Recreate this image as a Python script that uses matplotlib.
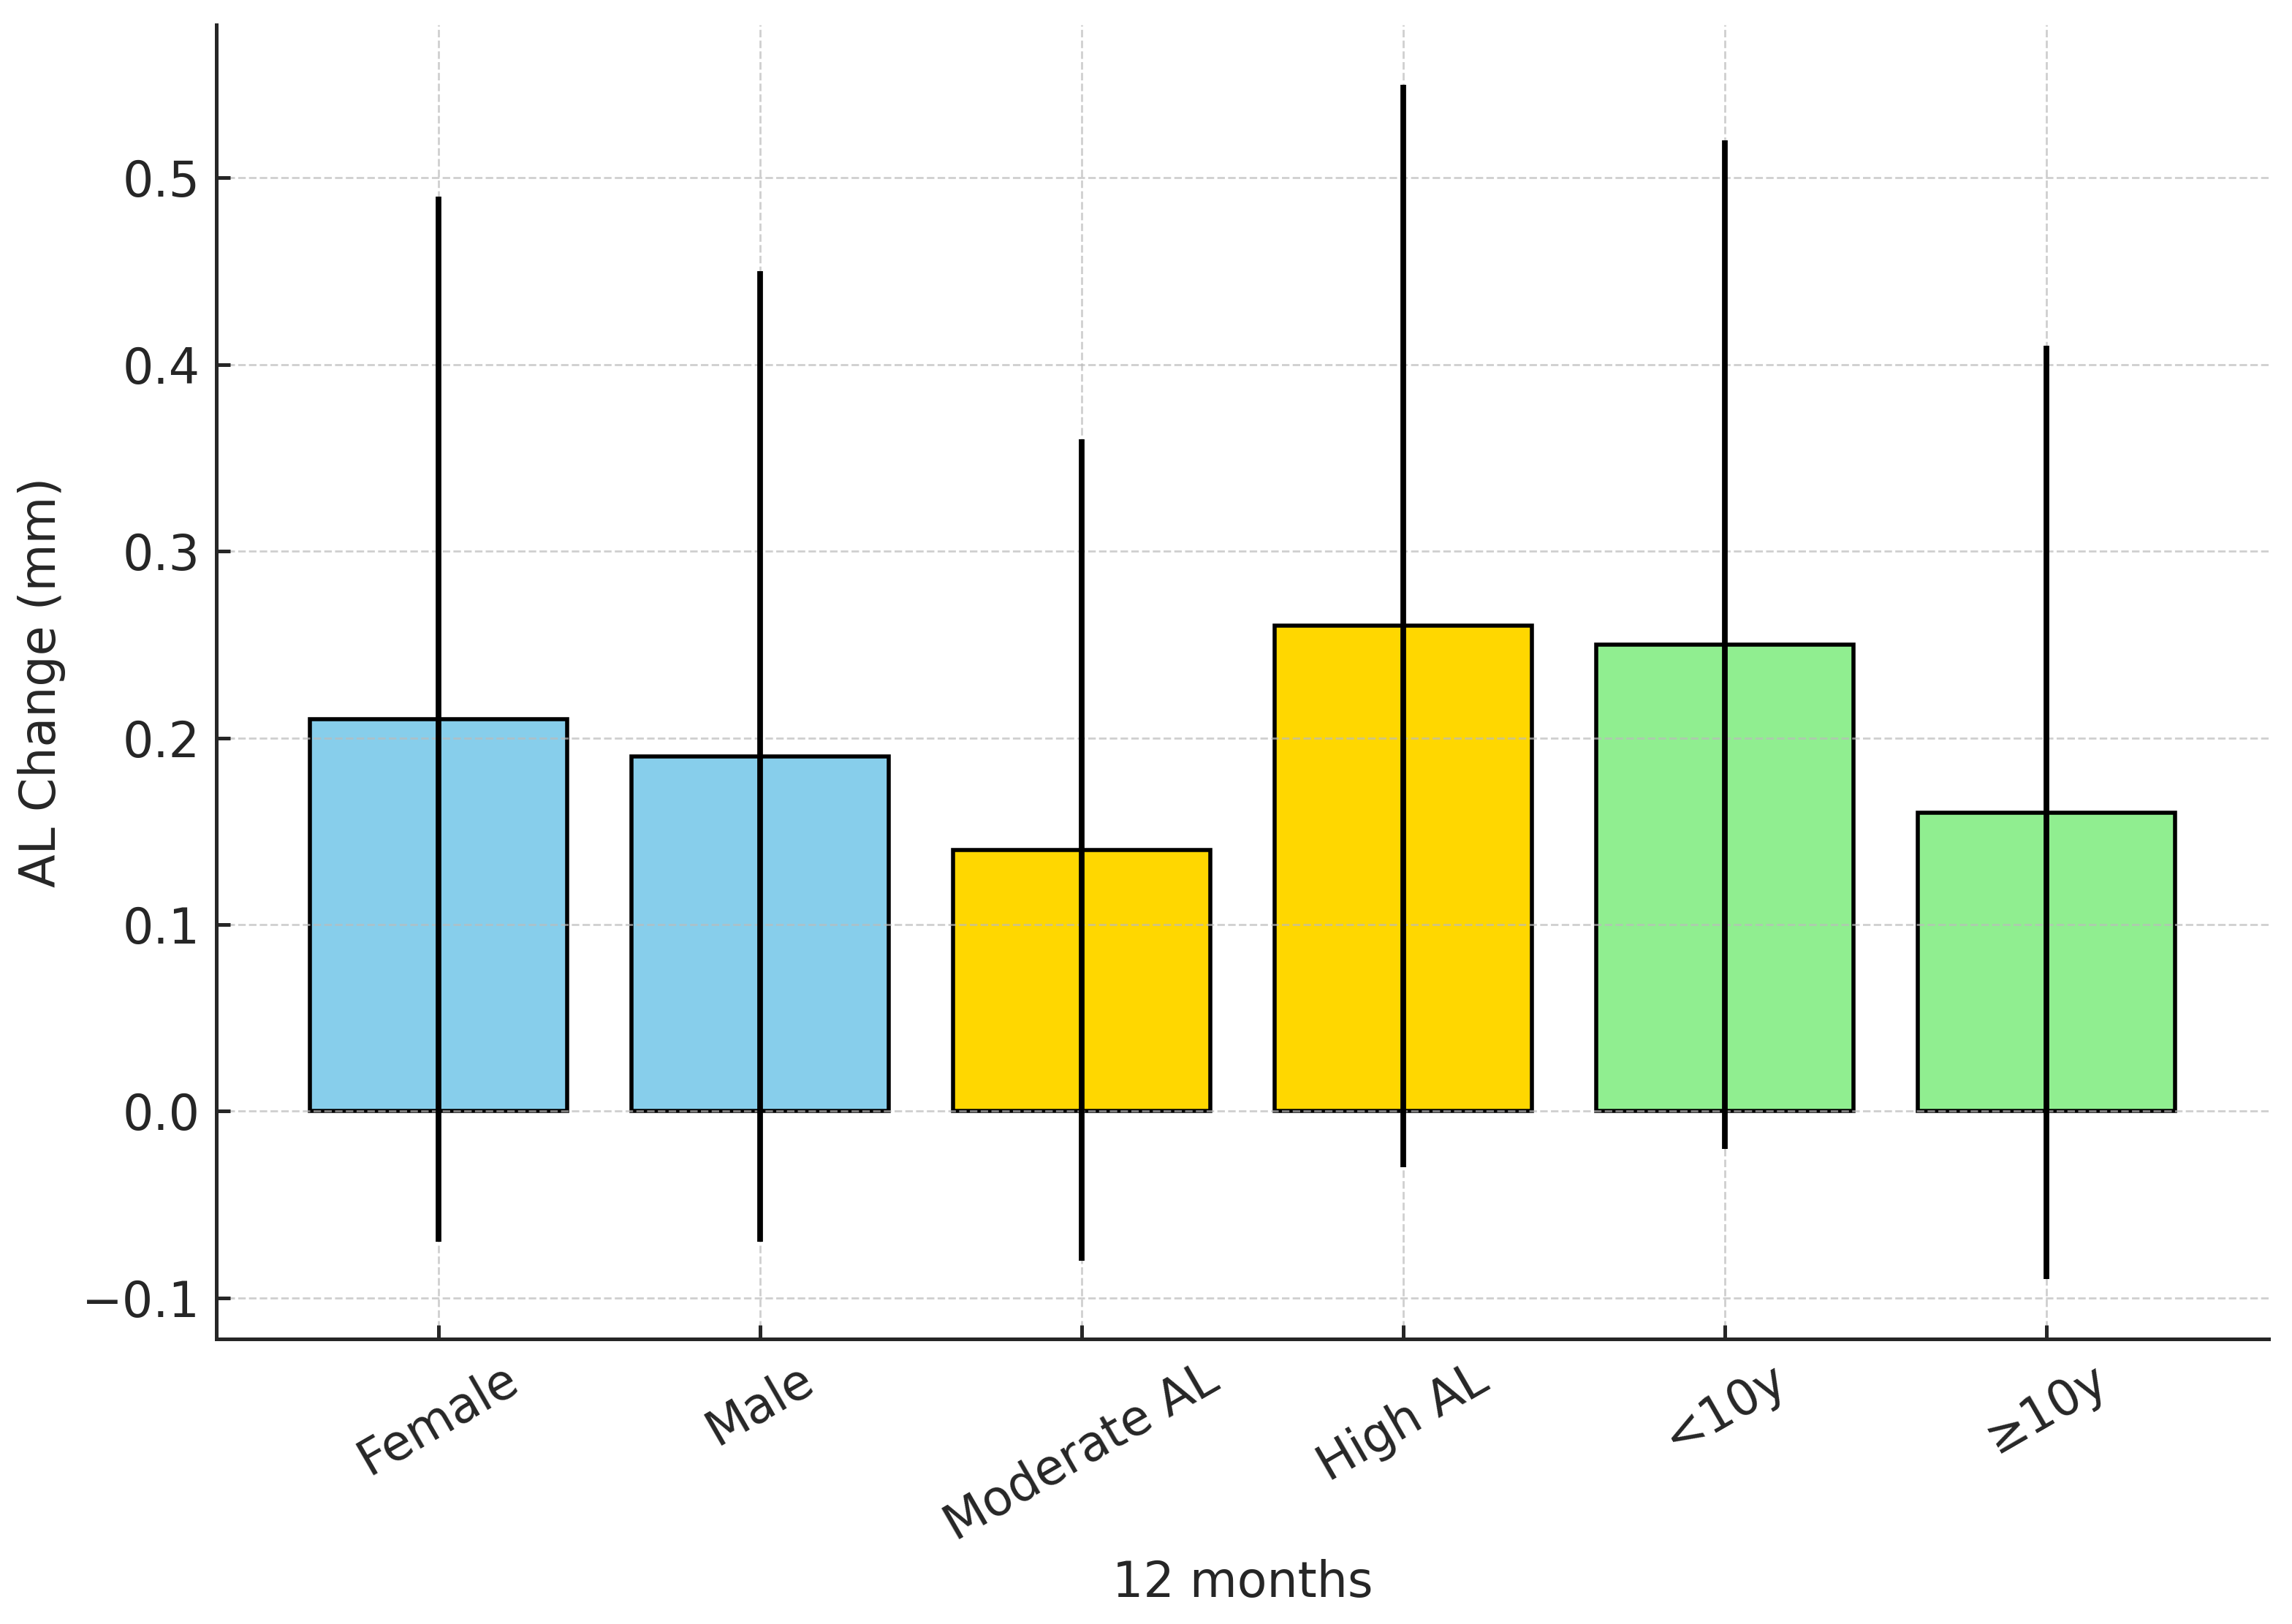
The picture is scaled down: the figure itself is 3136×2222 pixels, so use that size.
import numpy as np
import matplotlib
matplotlib.use("Agg")
from matplotlib import pyplot as plt

# data
groups = ["Female", "Male", "Moderate AL", "High AL", "<10y", "≥10y"]
al_change = [0.21, 0.19, 0.14, 0.26, 0.25, 0.16]
al_sd = [0.28, 0.26, 0.22, 0.29, 0.27, 0.25]
colors = ["skyblue", "skyblue", "gold", "gold", "lightgreen", "lightgreen"]

plt.rcParams['font.family'] = ['DejaVu Sans']
plt.rcParams['font.size'] = 24

fig = plt.figure(figsize=(15.68, 11.11), dpi=200)
ax = fig.add_axes([0.0944, 0.1755, 0.8954, 0.8092])

x = np.arange(len(groups))
ax.bar(x, al_change, yerr=al_sd, color=colors, edgecolor="black", linewidth=2.0,
       width=0.8, error_kw=dict(elinewidth=2.8, ecolor="black", capsize=0))

ax.set_xticks(x)
ax.set_xticklabels(groups, rotation=30)
ax.set_xlabel("12 months", color="#262626", labelpad=4)
ax.set_ylabel("AL Change (mm)", color="#262626", labelpad=8)

ax.grid(True, linestyle="--", color="#bbbbbb", alpha=0.7, linewidth=1.0)
for s in ["top", "right"]:
    ax.spines[s].set_visible(False)
for s in ["left", "bottom"]:
    ax.spines[s].set_linewidth(1.8)
    ax.spines[s].set_color("#262626")
ax.tick_params(direction="in", length=7, width=1.8, colors="#262626", labelsize=24, pad=8)

fig.savefig("out.png", dpi=200)
